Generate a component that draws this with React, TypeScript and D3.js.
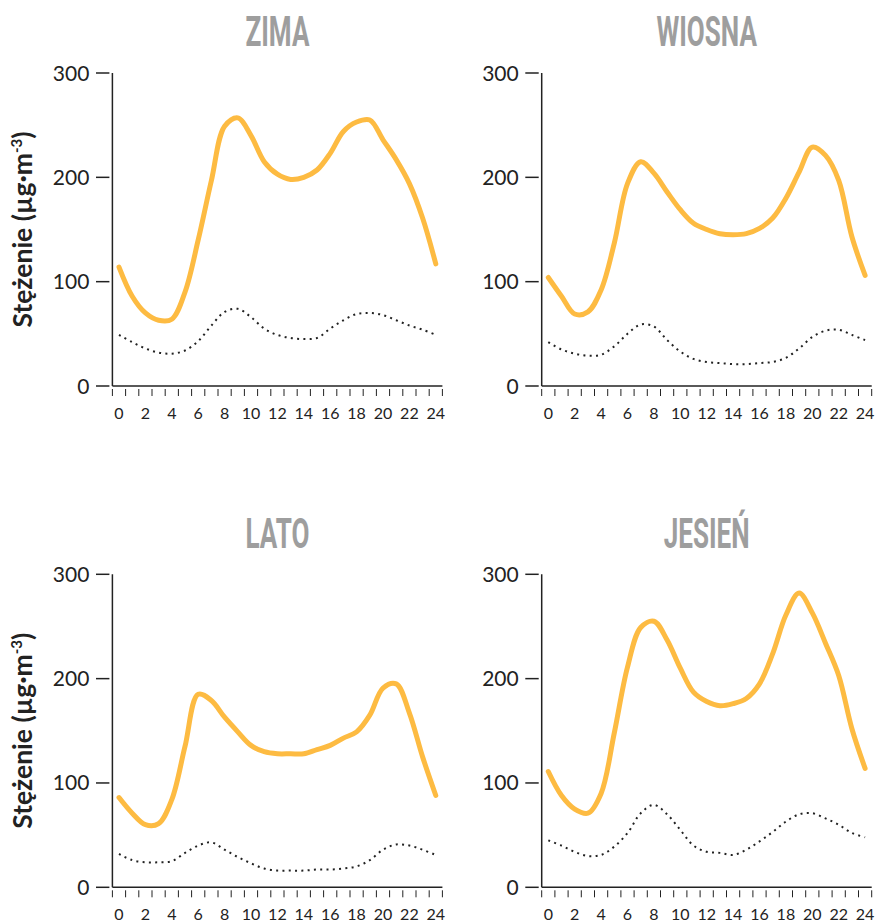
import React from "react";
import * as d3 from "d3";

// ---- data ----
const HOURS = d3.range(0, 25);
const TITLES = ["ZIMA", "WIOSNA", "LATO", "JESIEŃ"];
const Y_TICKS = [0, 100, 200, 300];
const X_LABELS = [0, 2, 4, 6, 8, 10, 12, 14, 16, 18, 20, 22, 24];
const Y_LABEL = "Stężenie (µg·m";
const Y_LABEL_SUP = "-3";

const zimaHigh = [114, 86, 70, 63, 64, 90, 140, 197, 249, 257, 240, 215, 203, 198, 200, 207, 223, 244, 253, 255, 236, 217, 194, 161, 117];
const zimaLow = [49, 42, 36, 32, 31, 34, 43, 58, 71, 74, 66, 55, 49, 46, 45, 46, 55, 63, 69, 70, 68, 63, 58, 54, 49];
const wiosnaHigh = [104, 86, 69, 71, 92, 137, 194, 215, 204, 186, 169, 156, 150, 146, 145, 146, 151, 161, 180, 205, 229, 221, 197, 143, 106];
const wiosnaLow = [42, 35, 31, 29, 30, 38, 50, 59, 57, 44, 33, 26, 23, 22, 21, 21, 22, 23, 27, 36, 47, 53, 54, 49, 44];
const latoHigh = [86, 71, 60, 61, 84, 135, 185, 179, 163, 149, 136, 130, 128, 128, 128, 132, 136, 143, 149, 165, 191, 195, 167, 125, 88];
const latoLow = [32, 26, 24, 24, 25, 33, 40, 43, 36, 29, 23, 18, 16, 16, 16, 17, 17, 18, 20, 26, 36, 41, 40, 36, 31];
const jesienHigh = [111, 88, 75, 71, 90, 148, 211, 249, 255, 237, 210, 187, 178, 174, 176, 181, 195, 224, 261, 282, 263, 234, 203, 152, 114];
const jesienLow = [45, 40, 34, 30, 31, 39, 52, 71, 79, 70, 55, 40, 34, 33, 31, 36, 44, 53, 63, 70, 71, 66, 60, 52, 48];

const HIGH = [zimaHigh, wiosnaHigh, latoHigh, jesienHigh];
const LOW = [zimaLow, wiosnaLow, latoLow, jesienLow];

// ---- layout ----
const AXIS_X = [112.4, 541.7];
const BASE_Y = [386, 887.3];
const PLOT_W = 330;
const PLOT_H = 313;
const TITLE_Y = [46, 548];

const ORANGE = "#FDBB42";
const INK = "#222";

function Panel({ idx }: { idx: number }) {
  const col = idx % 2;
  const row = Math.floor(idx / 2);
  const ax = AXIS_X[col];
  const by = BASE_Y[row];
  const x = d3.scaleLinear().domain([-0.5, 24.5]).range([ax, ax + PLOT_W]);
  const y = d3.scaleLinear().domain([0, 300]).range([by, by - PLOT_H]);
  const line = d3
    .line<number>()
    .x((_, i) => x(HOURS[i]))
    .y((d) => y(d))
    .curve(d3.curveCatmullRom.alpha(0.5));
  const tickPos = d3.range(-0.5, 25, 1);
  const cx = ax + PLOT_W / 2;
  return (
    <g>
      <text
        transform={`translate(${cx},${TITLE_Y[row]}) scale(0.62,1)`}
        textAnchor="middle"
        fontFamily="Roboto, 'DejaVu Sans', sans-serif"
        fontWeight={700}
        fontSize={42}
        fill="#9e9e9e"
      >
        {TITLES[idx]}
      </text>
      {/* y axis */}
      <line x1={ax} x2={ax} y1={y(300)} y2={by} stroke={INK} strokeWidth={1.5} />
      {Y_TICKS.map((t) => (
        <g key={t}>
          <line x1={ax - 16.4} x2={ax - 3} y1={y(t)} y2={y(t)} stroke={INK} strokeWidth={1.5} />
          <text
            x={ax - 23}
            y={y(t) + 7.5}
            textAnchor="end"
            fontFamily="Lato, sans-serif"
            fontSize={21}
            fill={INK}
          >
            {t}
          </text>
        </g>
      ))}
      {/* x axis */}
      <line x1={ax} x2={ax + PLOT_W} y1={by} y2={by} stroke={INK} strokeWidth={1.5} />
      {tickPos.map((t) => (
        <line key={t} x1={x(t)} x2={x(t)} y1={by + 3} y2={by + 10} stroke={INK} strokeWidth={1} />
      ))}
      {X_LABELS.map((t) => (
        <text
          key={t}
          x={x(t)}
          y={by + 33}
          textAnchor="middle"
          fontFamily="Lato, sans-serif"
          fontSize={16}
          fill={INK}
        >
          {t}
        </text>
      ))}
      {col === 0 && (
        <text
          transform={`translate(31.5,${by - PLOT_H / 2}) rotate(-90)`}
          textAnchor="middle"
          fontFamily="Lato, sans-serif"
          fontWeight={700}
          fontSize={26.5}
          fill={INK}
        >
          {Y_LABEL}
          <tspan fontSize={15} dy={-10}>
            {Y_LABEL_SUP}
          </tspan>
          <tspan dy={10}>)</tspan>
        </text>
      )}
      <path
        d={line(LOW[idx]) || ""}
        fill="none"
        stroke={INK}
        strokeWidth={2}
        strokeDasharray="2 4.3"
      />
      <path
        d={line(HIGH[idx]) || ""}
        fill="none"
        stroke={ORANGE}
        strokeWidth={5}
        strokeLinecap="round"
        strokeLinejoin="round"
      />
    </g>
  );
}

export default function App() {
  return (
    <svg
      width={878}
      height={922}
      style={{ position: "absolute", left: 0, top: 0, background: "#fff" }}
    >
      {TITLES.map((_, i) => (
        <Panel key={i} idx={i} />
      ))}
    </svg>
  );
}
